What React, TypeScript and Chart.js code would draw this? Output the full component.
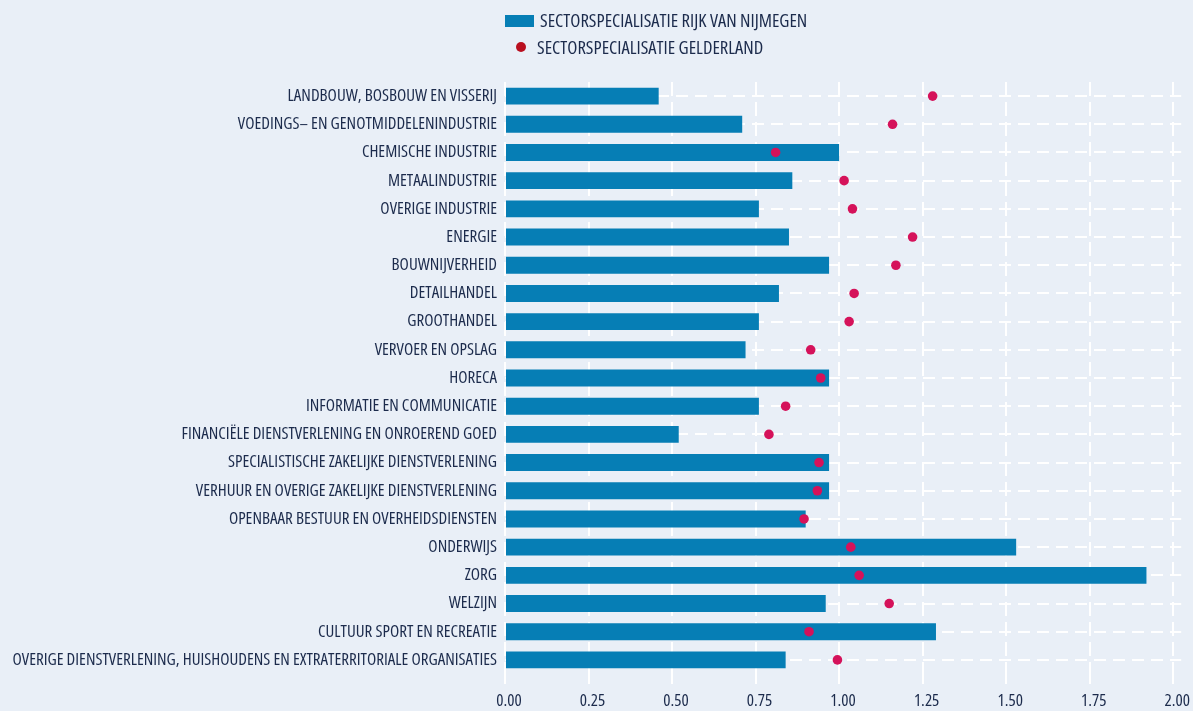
import React, { useEffect, useRef } from "react";
import { Chart, registerables } from "chart.js";

Chart.register(...registerables);

const categories = [
  "LANDBOUW, BOSBOUW EN VISSERIJ",
  "VOEDINGS\u2013 EN GENOTMIDDELENINDUSTRIE",
  "CHEMISCHE INDUSTRIE",
  "METAALINDUSTRIE",
  "OVERIGE INDUSTRIE",
  "ENERGIE",
  "BOUWNIJVERHEID",
  "DETAILHANDEL",
  "GROOTHANDEL",
  "VERVOER EN OPSLAG",
  "HORECA",
  "INFORMATIE EN COMMUNICATIE",
  "FINANCI\u00cbLE DIENSTVERLENING EN ONROEREND GOED",
  "SPECIALISTISCHE ZAKELIJKE DIENSTVERLENING",
  "VERHUUR EN OVERIGE ZAKELIJKE DIENSTVERLENING",
  "OPENBAAR BESTUUR EN OVERHEIDSDIENSTEN",
  "ONDERWIJS",
  "ZORG",
  "WELZIJN",
  "CULTUUR SPORT EN RECREATIE",
  "OVERIGE DIENSTVERLENING, HUISHOUDENS EN EXTRATERRITORIALE ORGANISATIES",
];

const nijmegen = [
  0.46, 0.71, 1.0, 0.86, 0.76, 0.85, 0.97, 0.82, 0.76, 0.72, 0.97, 0.76, 0.52,
  0.97, 0.97, 0.9, 1.53, 1.92, 0.96, 1.29, 0.84,
];

const gelderland = [
  1.28, 1.16, 0.81, 1.015, 1.04, 1.22, 1.17, 1.045, 1.03, 0.915, 0.945, 0.84,
  0.79, 0.94, 0.935, 0.895, 1.035, 1.06, 1.15, 0.91, 0.995,
];

const xTicks = [0, 0.25, 0.5, 0.75, 1.0, 1.25, 1.5, 1.75, 2.0];

const seriesNames = [
  "SECTORSPECIALISATIE RIJK VAN NIJMEGEN",
  "SECTORSPECIALISATIE GELDERLAND",
];

const BLUE = "#067eb5";
const RED = "#d5125a";
const LEGEND_RED = "#b90f1f";
const TEXT = "#1c2b4c";
const BG = "#e9eff7";

type FontPick = { family: string; stretch: string; size: number };

// pick an installed condensed face, sized so the first label is ~209px wide
function pickFont(): FontPick {
  const candidates = [
    { family: '"Noto Sans ExtraCondensed"', stretch: "" },
    { family: '"Noto Sans Condensed"', stretch: "" },
    { family: '"Noto Sans"', stretch: "extra-condensed" },
    { family: '"Noto Sans"', stretch: "condensed" },
    { family: '"Open Sans"', stretch: "condensed" },
    { family: '"Open Sans Condensed"', stretch: "" },
    { family: '"Liberation Sans Narrow"', stretch: "" },
    { family: '"Roboto Condensed"', stretch: "" },
    { family: '"DejaVu Sans Condensed"', stretch: "" },
  ];
  const sample = categories[0];
  const target20 = 232;
  const c = document.createElement("canvas").getContext("2d");
  const best: FontPick = { family: '"DejaVu Sans Condensed"', stretch: "", size: 15 };
  if (!c) return best;
  c.font = "20px monospace";
  const mono = c.measureText(sample).width;
  let bestDiff = Infinity;
  let bestW = 0;
  for (const cand of candidates) {
    c.font = "20px monospace";
    c.font = `${cand.stretch ? cand.stretch + " " : ""}20px ${cand.family}, monospace`;
    const w = c.measureText(sample).width;
    if (Math.abs(w - mono) < 0.5) continue;
    const d = Math.abs(w - target20);
    if (d < bestDiff - 0.5) {
      bestDiff = d;
      bestW = w;
      best.family = cand.family;
      best.stretch = cand.stretch;
    }
  }
  if (bestW > 0) {
    let size = (20 * 209) / bestW;
    size = Math.max(12, Math.min(20, size));
    best.size = Math.round(size * 2) / 2;
  }
  return best;
}

export default function App() {
  const canvasRef = useRef<HTMLCanvasElement | null>(null);

  useEffect(() => {
    const canvas = canvasRef.current;
    if (!canvas) return;
    const font = pickFont();
    const fam = `${font.family}, "DejaVu Sans Condensed", sans-serif`;
    const fontOpt: any = { family: fam, size: font.size };
    if (font.stretch) fontOpt.weight = font.stretch;
    const pre = font.stretch ? font.stretch + " " : "";

    const legendPlugin = {
      id: "manualLegend",
      afterDraw(chart: any) {
        const ctx = chart.ctx as CanvasRenderingContext2D;
        ctx.save();
        ctx.font = `${pre}20px ${fam}`;
        const w20 = ctx.measureText(seriesNames[0]).width;
        let lsize = w20 > 0 ? (20 * 268) / w20 : font.size;
        lsize = Math.max(12, Math.min(20, lsize));
        ctx.font = `${pre}${lsize.toFixed(1)}px ${fam}`;
        ctx.textBaseline = "middle";
        ctx.textAlign = "left";
        ctx.fillStyle = BLUE;
        ctx.fillRect(505, 15, 29, 12);
        ctx.fillStyle = LEGEND_RED;
        ctx.beginPath();
        ctx.arc(521, 47, 5, 0, Math.PI * 2);
        ctx.fill();
        ctx.fillStyle = TEXT;
        ctx.fillText(seriesNames[0], 540, 22);
        ctx.fillText(seriesNames[1], 537, 49);
        ctx.restore();
      },
    };

    const chart = new Chart(canvas, {
      type: "bar",
      data: {
        labels: categories,
        datasets: [
          {
            type: "bar",
            label: seriesNames[0],
            data: nijmegen,
            backgroundColor: BLUE,
            borderWidth: 0,
            barPercentage: 0.6,
            categoryPercentage: 1,
            order: 1,
            indexAxis: "y",
          } as any,
          {
            type: "line",
            label: seriesNames[1],
            data: gelderland,
            showLine: false,
            pointRadius: 4.8,
            pointHoverRadius: 4.8,
            pointBackgroundColor: RED,
            pointBorderWidth: 0,
            borderColor: RED,
            order: 0,
            indexAxis: "y",
          } as any,
        ],
      },
      options: {
        indexAxis: "y",
        responsive: false,
        animation: false,
        layout: { padding: { top: 82, left: 0, right: 8, bottom: 0 } },
        plugins: {
          legend: { display: false },
          tooltip: { enabled: false },
        },
        scales: {
          x: {
            type: "linear",
            position: "bottom",
            min: 0,
            max: 2.024,
            afterBuildTicks: (s: any) => {
              s.ticks = xTicks.map((v) => ({ value: v }));
            },
            afterFit: (s: any) => {
              s.height = 37;
            },
            ticks: {
              callback: (v: any) => Number(v).toFixed(2),
              color: TEXT,
              font: fontOpt,
              padding: 7,
              labelOffset: 4,
              maxRotation: 0,
              autoSkip: false,
            },
            grid: {
              color: "#ffffff",
              lineWidth: 2,
              tickLength: 10,
              drawTicks: true,
            },
            border: { display: false, dash: [14, 6] },
          },
          y: {
            type: "category",
            afterFit: (s: any) => {
              s.width = 505;
            },
            ticks: {
              color: TEXT,
              font: fontOpt,
              padding: 8,
              autoSkip: false,
            },
            grid: {
              color: "#ffffff",
              lineWidth: 2,
              offset: false,
              drawTicks: false,
            },
            border: { display: false, dash: [12, 7] },
          },
        },
      } as any,
      plugins: [legendPlugin],
    });
    return () => chart.destroy();
  }, []);

  return (
    <div
      style={{
        position: "fixed",
        left: 0,
        top: 0,
        width: 1193,
        height: 711,
        background: BG,
        overflow: "hidden",
      }}
    >
      <canvas
        ref={canvasRef}
        width={1193}
        height={711}
        style={{ position: "absolute", left: 0, top: 0, width: 1193, height: 711 }}
      />
    </div>
  );
}
